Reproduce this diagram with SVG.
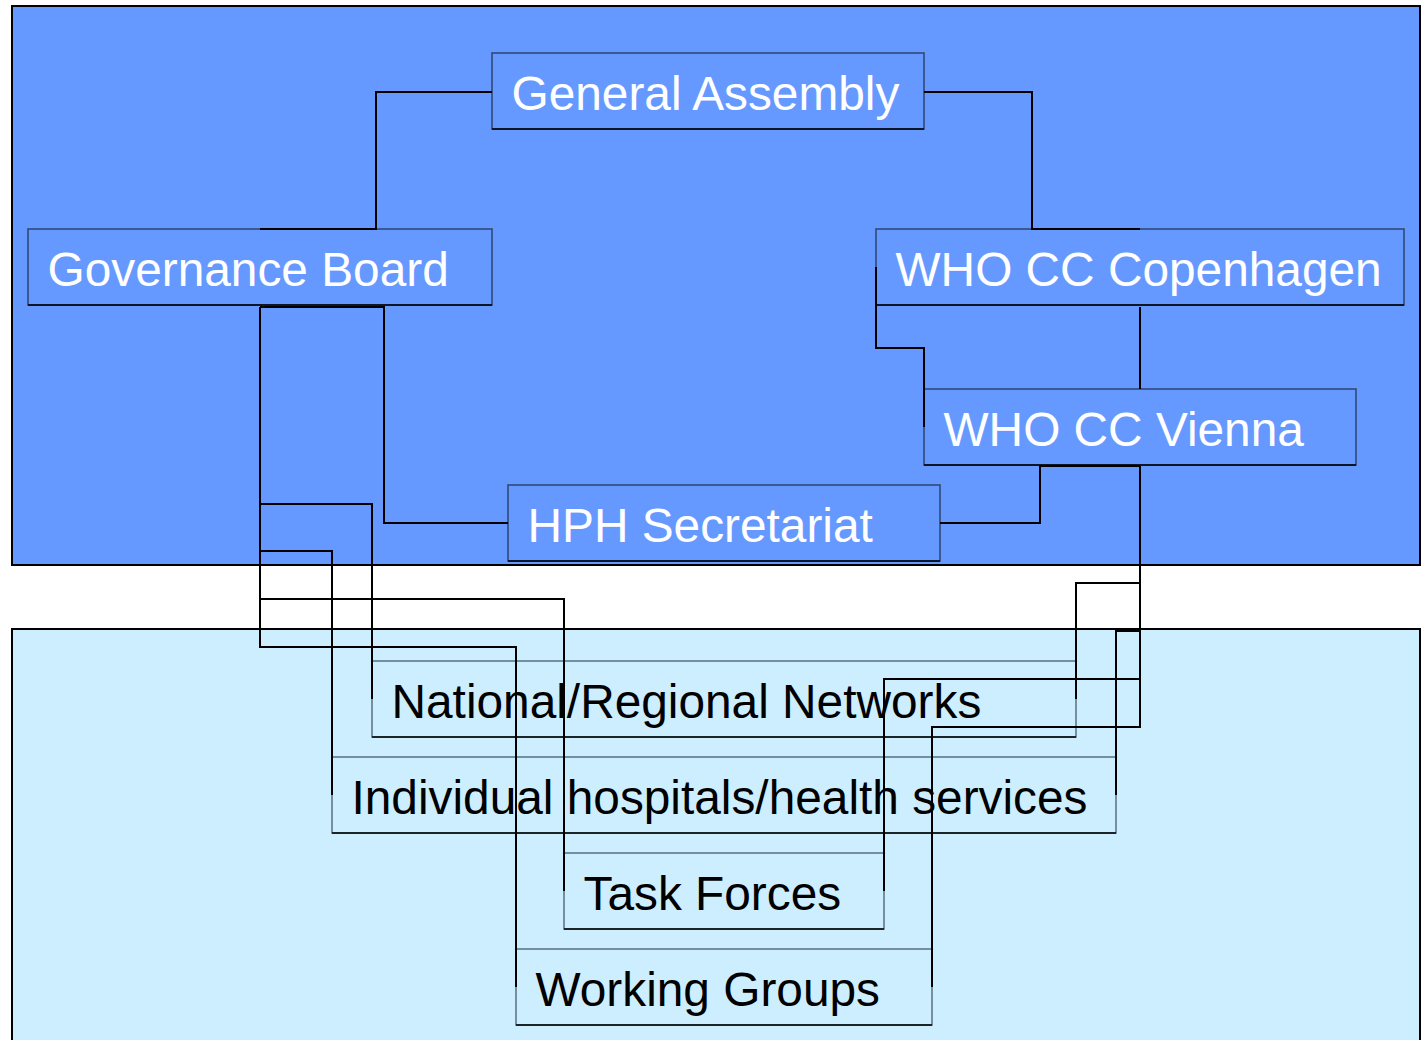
<svg xmlns="http://www.w3.org/2000/svg" width="1424" height="1040" viewBox="0 0 1424 1040">
<style>
.region{stroke:#000;stroke-width:2}
.topbox{fill:#6699ff;stroke:#2c4470;stroke-width:1.5}
.botbox{fill:#cceeff;stroke:#5a7080;stroke-width:1.5}
.base{stroke:#000;stroke-width:1.5}
.tw{font-family:"Liberation Sans",Arial,sans-serif;font-size:47.8px;fill:#fff}
.tb{font-family:"Liberation Sans",Arial,sans-serif;font-size:47.8px;fill:#000}
.conn path{fill:none;stroke:#000;stroke-width:2}
</style>
<rect width="1424" height="1040" fill="#fff"/>
<rect class="region" x="12" y="6" width="1408" height="559" fill="#6699ff"/>
<rect class="region" x="12" y="629" width="1408" height="430" fill="#cceeff"/>

<g id="general-assembly">
<rect class="topbox" x="492" y="53" width="432" height="76"/>
<line class="base" x1="492" y1="129" x2="924" y2="129"/>
<text class="tw" x="511.5" y="110">General Assembly</text>
</g>
<g id="governance-board">
<rect class="topbox" x="28" y="229" width="464" height="76"/>
<line class="base" x1="28" y1="305" x2="492" y2="305"/>
<text class="tw" x="47.5" y="286">Governance Board</text>
</g>
<g id="who-cc-copenhagen">
<rect class="topbox" x="876" y="229" width="528" height="76"/>
<line class="base" x1="876" y1="305" x2="1404" y2="305"/>
<text class="tw" x="895.5" y="286">WHO CC Copenhagen</text>
</g>
<g id="who-cc-vienna">
<rect class="topbox" x="924" y="389" width="432" height="76"/>
<line class="base" x1="924" y1="465" x2="1356" y2="465"/>
<text class="tw" x="943.5" y="446">WHO CC Vienna</text>
</g>
<g id="hph-secretariat">
<rect class="topbox" x="508" y="485" width="432" height="76"/>
<line class="base" x1="508" y1="561" x2="940" y2="561"/>
<text class="tw" x="527.5" y="542">HPH Secretariat</text>
</g>
<g id="national-regional-networks">
<rect class="botbox" x="372" y="661" width="704" height="76"/>
<line class="base" x1="372" y1="737" x2="1076" y2="737"/>
<text class="tb" x="391.5" y="718">National/Regional Networks</text>
</g>
<g id="individual-hospitals">
<rect class="botbox" x="332" y="757" width="784" height="76"/>
<line class="base" x1="332" y1="833" x2="1116" y2="833"/>
<text class="tb" x="351.5" y="814">Individual hospitals/health services</text>
</g>
<g id="task-forces">
<rect class="botbox" x="564" y="853" width="320" height="76"/>
<line class="base" x1="564" y1="929" x2="884" y2="929"/>
<text class="tb" x="583.5" y="910">Task Forces</text>
</g>
<g id="working-groups">
<rect class="botbox" x="516" y="949" width="416" height="76"/>
<line class="base" x1="516" y1="1025" x2="932" y2="1025"/>
<text class="tb" x="535.5" y="1006">Working Groups</text>
</g>

<g id="connectors" class="conn">
<path d="M492,92 H376 V229 H260"/>
<path d="M924,92 H1032 V229 H1140"/>
<path d="M876,267 V348 H924 V427"/>
<path d="M1140,307 V389"/>
<path d="M940,523 H1040 V466 H1140"/>
<path d="M260,307 H384 V523 H508"/>
<path d="M260,307 V504 H372 V699"/>
<path d="M260,551 H332 V795"/>
<path d="M260,599 H564 V891"/>
<path d="M260,504 V647 H516 V987"/>
<path d="M1140,466 V583 H1076 V699"/>
<path d="M1140,583 V631 H1116 V795"/>
<path d="M1140,631 V679 H884 V891"/>
<path d="M1140,679 V727 H932 V987"/>
</g>
</svg>
